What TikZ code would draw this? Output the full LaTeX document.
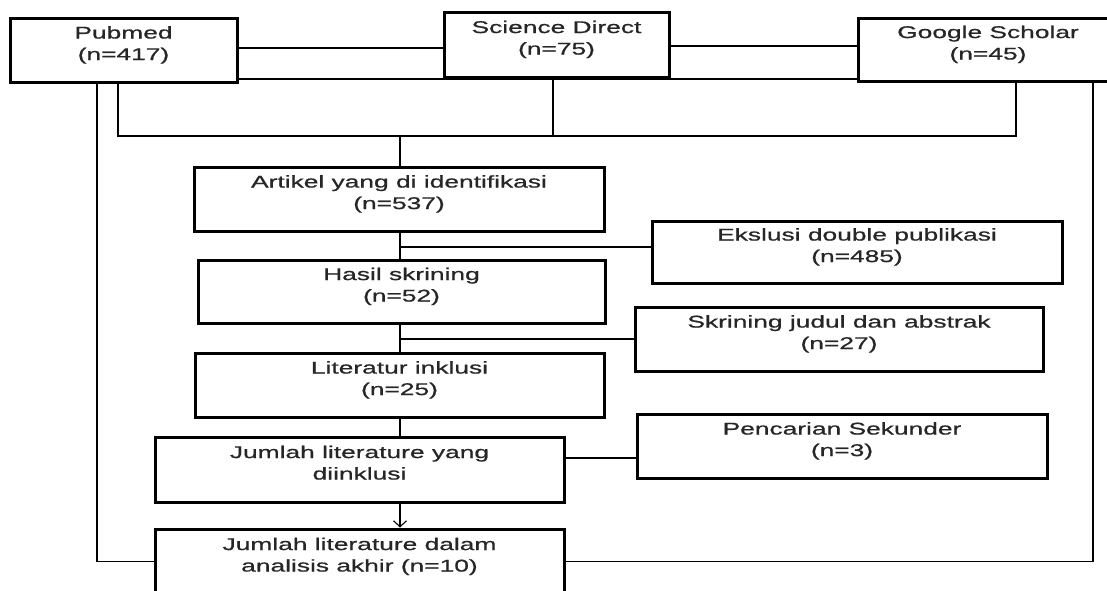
\documentclass[tikz,border=0pt]{standalone}
\usepackage{fontspec}
\setmainfont{Liberation Sans}[FakeStretch=1.55,FakeBold=0.8]
\usetikzlibrary{arrows.meta}
\newcommand{\bt}[1]{\raisebox{5pt}[\height][\depth]{\begin{tabular}{@{}c@{}}#1\end{tabular}}}
\tikzset{
  box/.style={draw=black, line width=3pt, rectangle, inner sep=0pt,
    font=\fontsize{17}{21.5}\selectfont, text=black!85},
  conn/.style={draw=black, line width=1.1pt},
  arr/.style={conn, -{Straight Barb[length=6pt,width=13pt,line width=1.1pt]}}
}
\begin{document}
\begin{tikzpicture}[x=1pt,y=-1pt]
\useasboundingbox (0,0) rectangle (1107,590);
\clip (0,0) rectangle (1107,590);
% source boxes
\node[box, minimum width=227pt, minimum height=64pt] (pub) at (123.5,50) {\bt{Pubmed\\(n=417)}};
\node[box, minimum width=225pt, minimum height=65pt] (sd) at (556.5,44.5) {\bt{Science Direct\\(n=75)}};
\node[box, minimum width=260pt, minimum height=63pt] (gs) at (988,49.5) {\bt{Google Scholar\\(n=45)}};
% main column
\node[box, minimum width=410pt, minimum height=64pt] (art) at (399,199) {\bt{Artikel yang di identifikasi\\(n=537)}};
\node[box, minimum width=407pt, minimum height=63pt] (has) at (401.5,291.5) {\bt{Hasil skrining\\(n=52)}};
\node[box, minimum width=409pt, minimum height=64pt] (lit) at (399.5,385) {\bt{Literatur inklusi\\(n=25)}};
\node[box, minimum width=409pt, minimum height=65pt] (jum) at (359.5,469.5) {\bt{Jumlah literature yang\\diinklusi}};
\node[box, minimum width=409pt, minimum height=65pt] (fin) at (359.5,561.5) {\bt{Jumlah literature dalam\\analisis akhir (n=10)}};
% side boxes
\node[box, minimum width=410pt, minimum height=62pt] (eks) at (857,252) {\bt{Ekslusi double publikasi\\(n=485)}};
\node[box, minimum width=408pt, minimum height=64pt] (skr) at (839,339) {\bt{Skrining judul dan abstrak\\(n=27)}};
\node[box, minimum width=410pt, minimum height=64pt] (pen) at (842,446) {\bt{Pencarian Sekunder\\(n=3)}};
% helper coordinates
\coordinate (y48) at (0,48);
\coordinate (y46) at (0,46);
\coordinate (y79) at (0,79);
\coordinate (busy) at (0,136);
\coordinate (y458) at (0,458);
\coordinate (pA) at (97,0);
\coordinate (pB) at (118,0);
\coordinate (sA) at (553,0);
\coordinate (gA) at (1016,0);
\coordinate (gB) at (1093,0);
\coordinate (sp) at (400,0);
\coordinate (e1) at (400,247);
\coordinate (e2) at (400,339);
% connectors between sources
\draw[conn] (pub.east |- y48) -- (sd.west |- y48);
\draw[conn] (sd.east |- y46) -- (gs.west |- y46);
\draw[conn] (pub.east |- y79) -- (gs.west |- y79);
% bus
\draw[conn] (pub.south -| pB) -- (pB |- busy) -- (gA |- busy) -- (gs.south -| gA);
\draw[conn] (sd.south -| sA) -- (sA |- busy);
\draw[conn] (sp |- busy) -- (art.north -| sp);
% outer loops to final box
\draw[conn] (pub.south -| pA) |- (fin.west);
\draw[conn] (gs.south -| gB) |- (fin.east);
% main spine
\draw[conn] (art.south -| sp) -- (has.north -| sp);
\draw[conn] (e1) -- (eks.west |- e1);
\draw[conn] (has.south -| sp) -- (lit.north -| sp);
\draw[conn] (e2) -- (skr.west |- e2);
\draw[conn] (lit.south -| sp) -- (jum.north -| sp);
\draw[conn] (jum.east |- y458) -- (pen.west |- y458);
\draw[arr] (jum.south -| sp) -- (fin.north -| sp);
\end{tikzpicture}
\end{document}
